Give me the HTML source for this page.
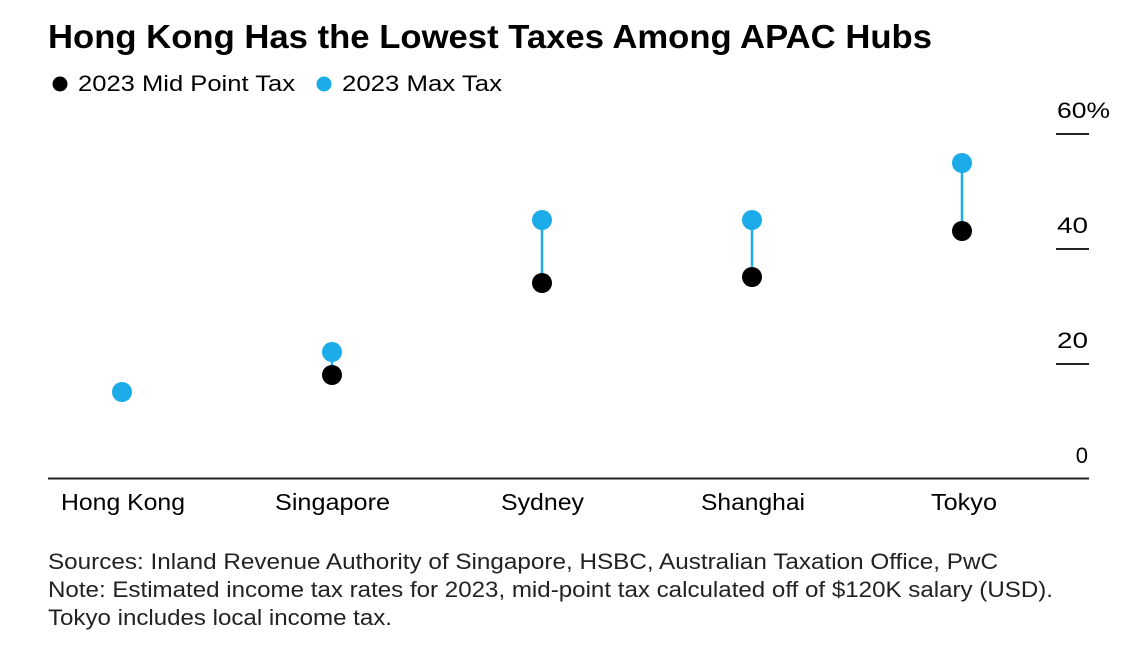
<!DOCTYPE html>
<html><head><style>
html,body{margin:0;padding:0;background:#fff;}
body{width:1140px;height:663px;overflow:hidden;font-family:"Liberation Sans",Arial,sans-serif;}
</style></head><body>
<svg width="1140" height="663" xmlns="http://www.w3.org/2000/svg" font-family="Liberation Sans, Arial, sans-serif">
<text x="48" y="48" font-size="33" font-weight="bold" fill="#000" textLength="884" lengthAdjust="spacingAndGlyphs">Hong Kong Has the Lowest Taxes Among APAC Hubs</text>
<circle cx="60" cy="84" r="7.5" fill="#000"/>
<text x="78" y="91" font-size="22" fill="#000" textLength="217" lengthAdjust="spacingAndGlyphs">2023 Mid Point Tax</text>
<circle cx="324" cy="84" r="7.5" fill="#1aabe8"/>
<text x="342" y="91" font-size="22" fill="#000" textLength="160" lengthAdjust="spacingAndGlyphs">2023 Max Tax</text>
<g font-size="22" fill="#000">
<text x="1057" y="118" textLength="53" lengthAdjust="spacingAndGlyphs">60%</text>
<text x="1057" y="233" textLength="31" lengthAdjust="spacingAndGlyphs">40</text>
<text x="1057" y="348" textLength="31" lengthAdjust="spacingAndGlyphs">20</text>
<text x="1088" y="463" text-anchor="end">0</text>
</g>
<g stroke="#222" stroke-width="2">
<line x1="1056" y1="134" x2="1089" y2="134"/>
<line x1="1056" y1="249" x2="1089" y2="249"/>
<line x1="1056" y1="364" x2="1089" y2="364"/>
<line x1="48" y1="478.5" x2="1089" y2="478.5"/>
</g>
<g stroke="#1aabe8" stroke-width="2.5">
<line x1="332" y1="352" x2="332" y2="375"/>
<line x1="542" y1="220" x2="542" y2="283"/>
<line x1="752" y1="220" x2="752" y2="277"/>
<line x1="962" y1="163" x2="962" y2="231"/>
</g>
<g fill="#000">
<circle cx="332" cy="375" r="10"/>
<circle cx="542" cy="283" r="10"/>
<circle cx="752" cy="277" r="10"/>
<circle cx="962" cy="231" r="10"/>
</g>
<g fill="#1aabe8">
<circle cx="122" cy="392" r="10"/>
<circle cx="332" cy="352" r="10"/>
<circle cx="542" cy="220" r="10"/>
<circle cx="752" cy="220" r="10"/>
<circle cx="962" cy="163" r="10"/>
</g>
<g font-size="23" fill="#000">
<text x="61" y="510" textLength="124" lengthAdjust="spacingAndGlyphs">Hong Kong</text>
<text x="275" y="510" textLength="115" lengthAdjust="spacingAndGlyphs">Singapore</text>
<text x="501" y="510" textLength="83" lengthAdjust="spacingAndGlyphs">Sydney</text>
<text x="701" y="510" textLength="104" lengthAdjust="spacingAndGlyphs">Shanghai</text>
<text x="931" y="510" textLength="66" lengthAdjust="spacingAndGlyphs">Tokyo</text>
</g>
<g font-size="22" fill="#222">
<text x="48" y="569" textLength="950" lengthAdjust="spacingAndGlyphs">Sources: Inland Revenue Authority of Singapore, HSBC, Australian Taxation Office, PwC</text>
<text x="48" y="597" textLength="1005" lengthAdjust="spacingAndGlyphs">Note: Estimated income tax rates for 2023, mid-point tax calculated off of $120K salary (USD).</text>
<text x="48" y="625" textLength="344" lengthAdjust="spacingAndGlyphs">Tokyo includes local income tax.</text>
</g>
</svg>
</body></html>
